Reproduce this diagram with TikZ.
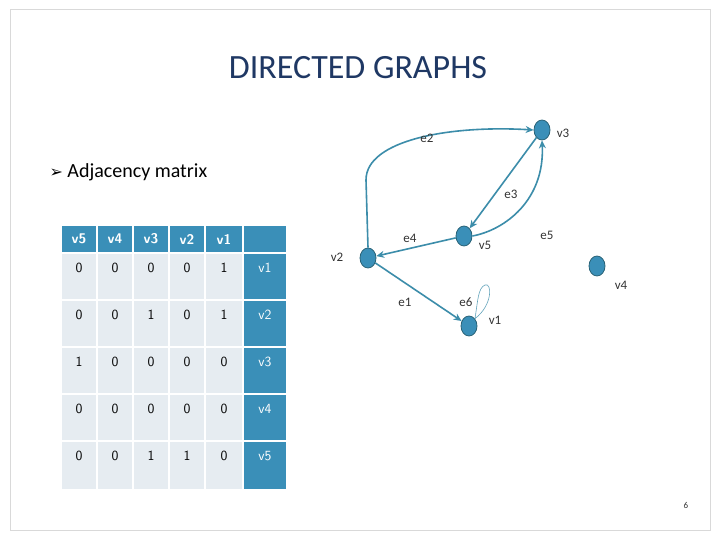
\documentclass[tikz,border=0pt]{standalone}
\usepackage{fontspec}
\setmainfont{Carlito}
\newfontfamily\djfont{DejaVu Sans}
\usetikzlibrary{arrows.meta,shapes.geometric}
\definecolor{hb}{HTML}{3A8FB8}
\definecolor{lc}{HTML}{E6ECF1}
\definecolor{ec}{HTML}{3C8DAA}
\definecolor{tc}{HTML}{1F3864}
\tikzset{x=1pt,y=-1pt,
 vert/.style={ellipse,draw=ec!70!black,fill=hb,minimum width=16pt,minimum height=20pt,inner sep=0pt,line width=0.8pt},
 edge/.style={draw=ec,line width=1.6pt,-{Stealth[length=8pt,width=7pt]}},
 lab/.style={font=\fontsize{13}{15}\selectfont,text=black!80},
 celltxt/.style={font=\sffamily\fontsize{14}{16}\selectfont}}
\begin{document}
\begin{tikzpicture}
\useasboundingbox (0,0) rectangle (720,540);
\fill[white] (0,0) rectangle (720,540);
\draw[black!15,line width=1pt] (10,10) rectangle (710,530);
\node[text=tc,font=\fontsize{34}{38}\selectfont] (title) at (358,68) {DIRECTED GRAPHS};
\node[anchor=west,font=\fontsize{20}{24}\selectfont] (adj) at (46,172) {{\djfont\fontsize{16}{20}\selectfont ➢} Adjacency matrix};
\node[text=black!80,font=\fontsize{9}{10}\selectfont] (pg) at (686,505) {6};
% table cells
\foreach \xl/\xr/\ci in {62/96/0,98/132/1,134/168/2,170/204/3,206/242/4,244/286/5}{
 \fill[hb] (\xl,226) rectangle (\xr,252);
 \foreach \yt/\yb in {254/299,301/346,348/393,395/440,442/489}{
  \ifnum\ci=5 \fill[hb] (\xl,\yt) rectangle (\xr,\yb);
  \else \fill[lc] (\xl,\yt) rectangle (\xr,\yb); \fi
 }}
\foreach \xm/\t in {79/v5,115/v4,151/v3,187/v2,224/v1}{
 \node[text=white,font=\sffamily\bfseries\fontsize{14}{16}\selectfont] (h\t) at (\xm,239) {\t};}
\foreach \ym/\a/\b/\c/\d/\e/\f in {268/0/0/0/0/1/v1,315/0/0/1/0/1/v2,362/1/0/0/0/0/v3,409/0/0/0/0/0/v4,456/0/0/1/1/0/v5}{
 \node[celltxt] (a\f) at (79,\ym) {\a};
 \node[celltxt] (b\f) at (115,\ym) {\b};
 \node[celltxt] (c\f) at (151,\ym) {\c};
 \node[celltxt] (d\f) at (187,\ym) {\d};
 \node[celltxt] (e\f) at (224,\ym) {\e};
 \node[celltxt,text=white] (f\f) at (265,\ym) {\f};
}
% graph
\node[vert] (v3) at (542,130) {};
\node[vert] (v5) at (464,236) {};
\node[vert] (v2) at (368,258) {};
\node[vert] (v1) at (469,326) {};
\node[vert] (v4) at (597,266) {};
\coordinate (bend) at (366,180);
\draw[edge] (v2.north) -- (bend) .. controls (366,140) and (450,125) .. (v3.west);
\draw[edge] (v3) -- (v5);
\draw[edge] (v5.east) .. controls (505,230) and (545,200) .. (v3.south);
\draw[edge] (v5) -- (v2);
\draw[edge] (v2) -- (v1);
\draw[ec!80,line width=0.6pt] (v1.north east) .. controls (493,305) and (492,282) .. (485,285) .. controls (478,288) and (478,300) .. (v1.north east);
\node[lab] (le2) at (427,138) {e2};
\node[lab] (le3) at (511,194) {e3};
\node[lab] (le4) at (410,238) {e4};
\node[lab] (lv5) at (485,245) {v5};
\node[lab] (le5) at (547,235) {e5};
\node[lab] (lv2) at (337,257) {v2};
\node[lab] (le1) at (405,302) {e1};
\node[lab] (le6) at (466,302) {e6};
\node[lab] (lv1) at (495,320) {v1};
\node[lab] (lv4) at (621,285) {v4};
\node[lab] (lv3) at (563,133) {v3};
\end{tikzpicture}
\end{document}
